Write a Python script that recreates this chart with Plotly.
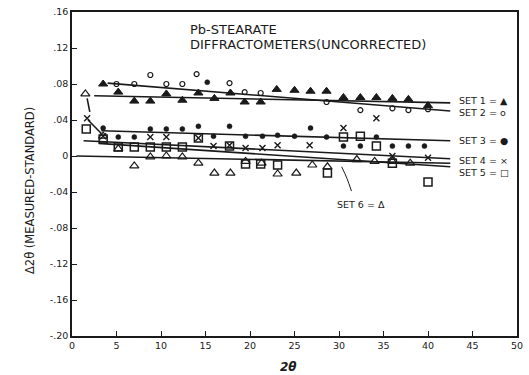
import plotly.graph_objects as go

# ---- data (2θ, Δ2θ) ----
set1_x = [3.5, 5.2, 7.0, 8.8, 10.6, 12.4, 14.2, 16.0, 17.8, 19.4, 21.2, 23.0, 25.0, 26.8, 28.6, 30.5, 32.4, 34.2, 36.0, 37.8, 40.0]
set1_y = [0.080, 0.071, 0.061, 0.061, 0.069, 0.062, 0.070, 0.064, 0.070, 0.060, 0.060, 0.074, 0.073, 0.072, 0.072, 0.065, 0.065, 0.065, 0.064, 0.063, 0.056]

set2_x = [5.0, 7.0, 8.8, 10.6, 12.4, 14.0, 17.7, 19.4, 21.2, 28.6, 32.4, 36.0, 37.8, 40.0]
set2_y = [0.080, 0.080, 0.090, 0.080, 0.080, 0.091, 0.081, 0.071, 0.070, 0.060, 0.051, 0.053, 0.051, 0.052]

set3_x = [3.5, 5.2, 7.0, 8.8, 10.6, 12.4, 14.2, 15.2, 15.9, 17.7, 19.5, 21.4, 23.1, 25.0, 26.8, 28.6, 30.5, 32.4, 34.2, 36.0, 37.8, 39.6]
set3_y = [0.031, 0.021, 0.021, 0.030, 0.030, 0.030, 0.033, 0.082, 0.022, 0.033, 0.022, 0.022, 0.023, 0.022, 0.031, 0.021, 0.011, 0.011, 0.021, 0.011, 0.011, 0.011]

set4_x = [1.7, 3.5, 8.8, 10.6, 14.2, 15.9, 17.7, 19.5, 21.4, 23.1, 26.7, 30.5, 34.2, 36.0, 40.0]
set4_y = [0.042, 0.022, 0.021, 0.021, 0.020, 0.011, 0.012, 0.009, 0.009, 0.012, 0.012, 0.031, 0.042, 0.000, -0.002]

set5_x = [1.6, 3.5, 5.2, 7.0, 8.8, 10.6, 12.4, 14.2, 17.7, 19.5, 21.2, 23.1, 28.7, 30.5, 32.4, 34.2, 36.0, 40.0]
set5_y = [0.030, 0.019, 0.010, 0.010, 0.010, 0.010, 0.010, 0.020, 0.011, -0.009, -0.009, -0.010, -0.019, 0.021, 0.022, 0.011, -0.008, -0.029]

set6_x = [1.5, 3.5, 5.2, 7.0, 8.8, 10.6, 12.4, 14.2, 16.0, 17.8, 19.5, 21.3, 23.1, 25.2, 27.0, 28.7, 32.0, 34.0, 36.0, 38.0]
set6_y = [0.069, 0.022, 0.008, -0.011, -0.001, 0.000, -0.001, -0.008, -0.019, -0.019, -0.006, -0.008, -0.020, -0.019, -0.010, -0.012, -0.004, -0.006, -0.006, -0.008]

# fitted lines (endpoints)
fit1_x, fit1_y = [2.5, 42.5], [0.067, 0.059]
fit2_x, fit2_y = [4.0, 42.5], [0.081, 0.050]
fit3_x, fit3_y = [3.3, 42.5], [0.028, 0.017]
fit4_x, fit4_y = [1.3, 42.5], [0.017, -0.003]
fit5_x, fit5_y = [3.0, 42.5], [0.014, -0.012]
fit6_x, fit6_y = [0.5, 42.5], [0.000, -0.008]
conn_a_x, conn_a_y = [1.7, 2.0], [0.064, 0.049]
conn_b_x, conn_b_y = [1.8, 3.3], [0.040, 0.025]
lead_x, lead_y = [30.3, 30.9, 31.4], [-0.012, -0.025, -0.039]

label_text = ["SET 1 = ▲", "SET 2 = o", "SET 3 = ●", "SET 4 = ×", "SET 5 = □"]
label_y = [0.0615, 0.048, 0.017, -0.0055, -0.0185]
label_x = 43.3

y_ticks = [0.16, 0.12, 0.08, 0.04, 0, -0.04, -0.08, -0.12, -0.16, -0.20]
y_tick_text = [".16", ".12", ".08", ".04", "0", "-.04", "-.08", "-.12", "-.16", "-.20"]
x_ticks = [0, 5, 10, 15, 20, 25, 30, 35, 40, 45, 50]

INK = "#1a1a1a"
fig = go.Figure()

for fx, fy in [(fit1_x, fit1_y), (fit2_x, fit2_y), (fit3_x, fit3_y), (fit4_x, fit4_y),
               (fit5_x, fit5_y), (fit6_x, fit6_y), (conn_a_x, conn_a_y), (conn_b_x, conn_b_y)]:
    fig.add_trace(go.Scatter(x=fx, y=fy, mode="lines", line=dict(color=INK, width=1.6),
                             showlegend=False, hoverinfo="skip"))
fig.add_trace(go.Scatter(x=lead_x, y=lead_y, mode="lines", line=dict(color=INK, width=1, shape="spline"),
                         showlegend=False, hoverinfo="skip"))

def pts(x, y, symbol, size, lw=1.2, fill=INK):
    fig.add_trace(go.Scatter(x=x, y=y, mode="markers", showlegend=False,
                             marker=dict(symbol=symbol, size=size, color=fill,
                                         line=dict(color=INK, width=lw))))

pts(set1_x, set1_y, "triangle-up", 8, 1)
pts(set2_x, set2_y, "circle-open", 5, 1.2)
pts(set3_x, set3_y, "circle", 5, 0.5)
pts(set4_x, set4_y, "x-thin-open", 6, 1.4)
pts(set5_x, set5_y, "square-open", 8, 1.5)
pts(set6_x, set6_y, "triangle-up-open", 8, 1.2)

FONT = "DejaVu Sans"
for t, yy in zip(label_text, label_y):
    fig.add_annotation(x=label_x, y=yy, text=t, showarrow=False, xanchor="left", yanchor="middle",
                       font=dict(family=FONT, size=9.5, color=INK))
fig.add_annotation(x=29.5, y=-0.054, text="SET 6 = Δ", showarrow=False, xanchor="left", yanchor="middle",
                   font=dict(family=FONT, size=9.5, color=INK))
fig.add_annotation(x=13.0, y=0.141, text="Pb-STEARATE", showarrow=False, xanchor="left", yanchor="middle",
                   font=dict(family=FONT, size=13, color=INK))
fig.add_annotation(x=13.0, y=0.124, text="DIFFRACTOMETERS(UNCORRECTED)", showarrow=False, xanchor="left",
                   yanchor="middle", font=dict(family=FONT, size=13, color=INK))
fig.add_annotation(xref="paper", yref="paper", x=-0.115, y=0.45, text="Δ2θ (MEASURED-STANDARD)",
                   textangle=-90, showarrow=False, font=dict(family=FONT, size=11.5, color=INK))
fig.add_annotation(xref="paper", yref="paper", x=0.487, y=-0.095, text="<b><i>2θ</i></b>",
                   showarrow=False, yanchor="middle", font=dict(family=FONT, size=12, color=INK))

fig.update_xaxes(range=[0, 50], tickvals=x_ticks, ticks="inside", ticklen=5, tickcolor=INK,
                 showline=True, linecolor=INK, linewidth=1.5, mirror=True, showgrid=False, zeroline=False,
                 tickfont=dict(family=FONT, size=9.5, color=INK))
fig.update_yaxes(range=[-0.20, 0.16], tickvals=y_ticks, ticktext=y_tick_text, ticks="inside", ticklen=5,
                 tickcolor=INK, showline=True, linecolor=INK, linewidth=1.5, mirror=True, showgrid=False,
                 zeroline=False, tickfont=dict(family=FONT, size=9.5, color=INK))
fig.update_layout(width=529, height=375, margin=dict(l=72, r=6, t=12, b=39),
                  plot_bgcolor="white", paper_bgcolor="white")
fig.update_traces(cliponaxis=False)
fig.write_html("out.html")
